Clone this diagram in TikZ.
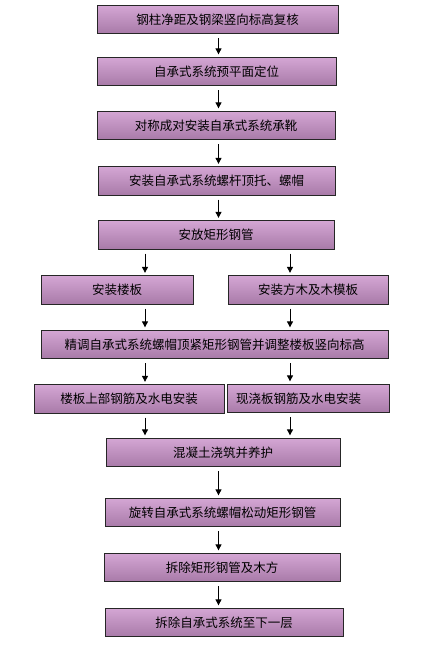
\documentclass[tikz,border=0pt]{standalone}
\usepackage{fontspec}
\setmainfont{Noto Sans CJK SC}
\usetikzlibrary{arrows.meta}
\definecolor{boxtop}{RGB}{212,166,212}
\definecolor{boxmid}{RGB}{252,214,252}
\definecolor{boxbot}{RGB}{168,122,168}
\tikzstyle{stepbox} = [
  draw=black!85,
  line width=0.8pt,
  rectangle,
  inner sep=0pt,
  minimum height=28.5pt,
  top color=boxtop,
  middle color=boxmid,
  bottom color=boxbot,
  font=\fontsize{12.5}{14}\selectfont,
]
\tikzstyle{flow} = [
  line width=0.9pt,
  -{Triangle[length=6pt,width=6pt]},
  shorten <=4pt,
  shorten >=2.5pt,
]

\begin{document}
\begin{tikzpicture}[
    x=1pt,
    y=-1pt,
  ]
  \useasboundingbox (0,0) rectangle (435,648);
  \coordinate (colM) at (218.5,0);
  \coordinate (colA) at (145,0);
  \coordinate (colB) at (290,0);
  % main column, top part
  \node[stepbox, minimum width=241pt] (check) at (217.5,19.5) {钢柱净距及钢梁竖向标高复核};
  \node[stepbox, minimum width=239pt] (locate) at (216.5,71.5) {自承式系统预平面定位};
  \node[stepbox, minimum width=238pt] (seat) at (216,125.5) {对称成对安装自承式系统承靴};
  \node[stepbox, minimum width=237pt] (screw) at (216.5,181) {安装自承式系统螺杆顶托、螺帽};
  \node[stepbox, minimum width=236pt] (tube) at (216,235) {安放矩形钢管};
  % two branches
  \node[stepbox, minimum width=152pt] (deck) at (117,290) {安装楼板};
  \node[stepbox, minimum width=160pt] (form) at (308,290) {安装方木及木模板};
  \node[stepbox, minimum width=347pt] (tune) at (214.5,344.5) {精调自承式系统螺帽顶紧矩形钢管并调整楼板竖向标高};
  \node[stepbox, minimum width=190pt] (rebarA) at (129,399) {楼板上部钢筋及水电安装};
  \node[stepbox, minimum width=162pt] (rebarB) at (308,398.5) {\hspace*{-19pt}现浇板钢筋及水电安装};
  % main column, bottom part
  \node[stepbox, minimum width=234pt] (pour) at (223,452.5) {混凝土浇筑并养护};
  \node[stepbox, minimum width=235pt] (loosen) at (222.5,512.5) {旋转自承式系统螺帽松动矩形钢管};
  \node[stepbox, minimum width=236pt] (remove) at (222,567.5) {拆除矩形钢管及木方};
  \node[stepbox, minimum width=238pt] (shift) at (224,622.5) {拆除自承式系统至下一层};

  \draw[flow] (check.south -| colM) -- (locate.north -| colM);
  \draw[flow] (locate.south -| colM) -- (seat.north -| colM);
  \draw[flow] (seat.south -| colM) -- (screw.north -| colM);
  \draw[flow] (screw.south -| colM) -- (tube.north -| colM);
  \draw[flow] (tube.south -| colA) -- (deck.north -| colA);
  \draw[flow] (tube.south -| colB) -- (form.north -| colB);
  \draw[flow] (deck.south -| colA) -- (tune.north -| colA);
  \draw[flow] (form.south -| colB) -- (tune.north -| colB);
  \draw[flow] (tune.south -| colA) -- (rebarA.north -| colA);
  \draw[flow] (tune.south -| colB) -- (rebarB.north -| colB);
  \draw[flow] (rebarA.south -| colA) -- (pour.north -| colA);
  \draw[flow] (rebarB.south -| colB) -- (pour.north -| colB);
  \draw[flow] (pour.south -| colM) -- (loosen.north -| colM);
  \draw[flow] (loosen.south -| colM) -- (remove.north -| colM);
  \draw[flow] (remove.south -| colM) -- (shift.north -| colM);
\end{tikzpicture}
\end{document}
